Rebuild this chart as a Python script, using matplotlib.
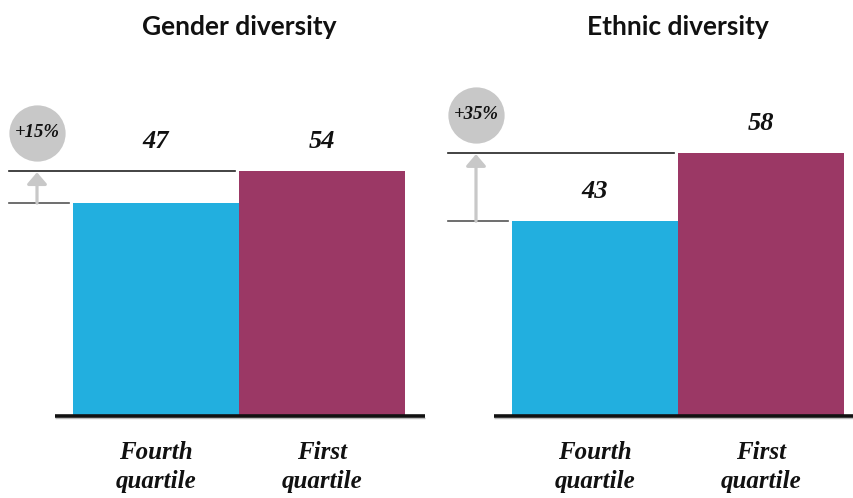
import matplotlib
matplotlib.use("Agg")
import matplotlib.pyplot as plt

panels = ["Gender diversity", "Ethnic diversity"]
categories = ["Fourth\nquartile", "First\nquartile"]
values = [[47, 54], [43, 58]]
uplift = ["+15%", "+35%"]
colors = ["#22AFDF", "#9B3865"]

W, H = 854, 498
fig = plt.figure(figsize=(W / 100, H / 100), dpi=100)

serif = dict(family="Liberation Serif", style="italic", weight="bold")

base_px = 82          # baseline from bottom
scale = 4.53          # px per unit
ymax = 80
bar_px = 166
center0 = 156         # px center of first bar within panel
ax_w = 415

for i, (title, vals) in enumerate(zip(panels, values)):
    x0 = i * 439
    ax = fig.add_axes([x0 / W, base_px / H, ax_w / W, ymax * scale / H])
    ax.set_xlim(-center0 / bar_px, (ax_w - center0) / bar_px)
    ax.set_ylim(0, ymax)
    ax.axis("off")
    xs = [0, 1]
    ax.bar(xs, vals, width=1.0, color=colors, linewidth=0)
    # baseline
    ax.plot([-0.608, 1.62], [0, 0], color="#111111", lw=2.6, clip_on=False,
            solid_capstyle="butt", zorder=3)
    ax.plot([-0.608, 1.62], [-0.35, -0.35], color="#bbbbbb", lw=1.0, clip_on=False,
            solid_capstyle="butt", zorder=2)
    lo, hi = min(vals), max(vals)
    xl = (9 - center0) / bar_px
    # reference lines
    ax.plot([xl, (235 - center0) / bar_px], [hi, hi], color="#222222", lw=1.2,
            clip_on=False)
    ax.plot([xl, (69 - center0) / bar_px], [lo, lo], color="#555555", lw=1.2,
            clip_on=False)
    xa = (37 - center0) / bar_px
    ax.annotate("", xy=(xa, hi - 0.2), xytext=(xa, lo),
                arrowprops=dict(arrowstyle="-|>,head_width=0.3,head_length=0.35",
                                color="#c8c8c8", lw=2.3, mutation_scale=20,
                                shrinkA=0, shrinkB=0), annotation_clip=False)
    # circle badge
    ax.plot([xa], [hi + 8.5], marker="o", ms=40.5, color="#c8c8c8",
            markeredgewidth=0, clip_on=False)
    ax.text(xa, hi + 8.5, uplift[i], ha="center", va="center", fontsize=13.5,
            color="#111111", clip_on=False, **serif)
    # value labels
    for x, v in zip(xs, vals):
        ly = v if (hi - v) > 10 else hi
        ax.text(x, ly + 6.5, str(v), ha="center", va="center", fontsize=19,
                color="#111111", **serif)
    # category labels
    for x, c in zip(xs, categories):
        ax.text(x, -51 / scale, c, ha="center", va="center", fontsize=18,
                color="#111111", linespacing=1.38, clip_on=False, **serif)
    fig.text((x0 + center0 + 0.5 * bar_px) / W, 1 - 27 / H, title, ha="center",
             va="center", fontsize=19, family="Lato", weight="bold",
             color="#111111")

fig.savefig("out.png", dpi=100)
